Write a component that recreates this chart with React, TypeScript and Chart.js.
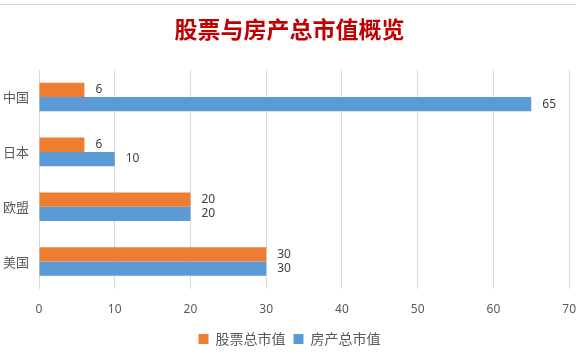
import React, { useEffect, useRef } from "react";
import { Chart, registerables } from "chart.js";

Chart.register(...registerables);

const categories = ["中国", "日本", "欧盟", "美国"];
const stockValues = [6, 6, 20, 30];
const propertyValues = [65, 10, 20, 30];
const seriesNames = ["股票总市值", "房产总市值"];
const titleText = "股票与房产总市值概览";

const CJK = '"Noto Sans CJK SC", "Noto Sans", sans-serif';

const valueLabels = {
  id: "valueLabels",
  afterDatasetsDraw(chart: any) {
    const ctx = chart.ctx;
    ctx.save();
    ctx.font = '12px "Noto Sans", sans-serif';
    ctx.fillStyle = "#404040";
    ctx.textAlign = "left";
    ctx.textBaseline = "middle";
    chart.data.datasets.forEach((ds: any, di: number) => {
      const meta = chart.getDatasetMeta(di);
      meta.data.forEach((bar: any, i: number) => {
        ctx.fillText(String(ds.data[i]), bar.x + 11, bar.y);
      });
    });
    ctx.restore();
  },
};

const topLine = {
  id: "topLine",
  beforeDraw(chart: any) {
    const ctx = chart.ctx;
    ctx.save();
    ctx.fillStyle = "#ffffff";
    ctx.fillRect(0, 0, chart.width, chart.height);
    ctx.strokeStyle = "#d9d9d9";
    ctx.lineWidth = 1;
    ctx.beginPath();
    ctx.moveTo(0, 4.5);
    ctx.lineTo(chart.width, 4.5);
    ctx.stroke();
    ctx.restore();
  },
};

export default function App() {
  const ref = useRef<HTMLCanvasElement>(null);
  useEffect(() => {
    if (!ref.current) return;
    const chart = new Chart(ref.current, {
      type: "bar",
      data: {
        labels: categories,
        datasets: [
          {
            label: seriesNames[0],
            data: stockValues,
            backgroundColor: "#ED7D31",
            categoryPercentage: 0.52,
            barPercentage: 1,
          },
          {
            label: seriesNames[1],
            data: propertyValues,
            backgroundColor: "#5B9BD5",
            categoryPercentage: 0.52,
            barPercentage: 1,
          },
        ],
      },
      options: {
        indexAxis: "y",
        animation: false,
        responsive: false,
        maintainAspectRatio: false,
        layout: { padding: { left: 3, right: 0, top: 0, bottom: 8 } },
        scales: {
          x: {
            min: 0,
            max: 70,
            ticks: {
              stepSize: 10,
              color: "#595959",
              font: { size: 12, family: '"Noto Sans", sans-serif' },
              padding: 0,
            },
            grid: {
              color: "#d9d9d9",
              drawTicks: true,
              tickLength: 13,
              tickColor: "rgba(0,0,0,0)",
            },
            border: { display: false },
            afterFit(scale: any) {
              scale.height = 35;
            },
          },
          y: {
            ticks: {
              color: "#595959",
              font: { size: 13, family: CJK },
              padding: 10,
            },
            grid: { display: false, drawTicks: false },
            border: { display: false },
            afterFit(scale: any) {
              scale.width = 36;
            },
          },
        },
        plugins: {
          title: {
            display: true,
            text: titleText,
            color: "#C00000",
            font: { size: 23, weight: "bold", family: CJK },
            padding: { top: 15, bottom: 27 },
          },
          legend: {
            position: "bottom",
            labels: {
              boxWidth: 10,
              boxHeight: 10,
              padding: 8,
              color: "#595959",
              font: { size: 14, family: CJK },
            },
          },
          tooltip: { enabled: false },
        },
      },
      plugins: [topLine, valueLabels],
    });
    return () => chart.destroy();
  }, []);
  return (
    <div style={{ position: "fixed", left: 0, top: 0, width: 576, height: 364, background: "#fff" }}>
      <canvas ref={ref} width={576} height={364} style={{ display: "block" }} />
    </div>
  );
}
